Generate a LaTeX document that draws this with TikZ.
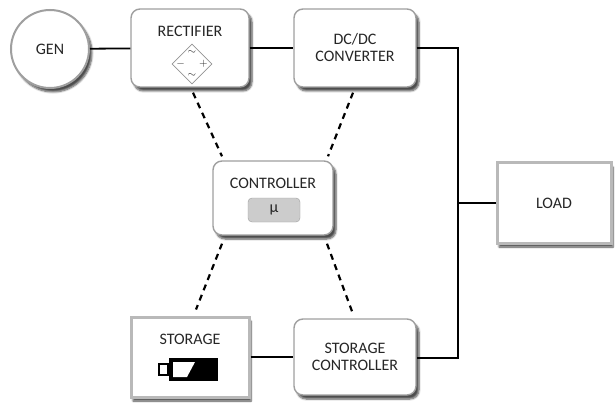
\documentclass[tikz,border=0pt]{standalone}
\usepackage{fontspec}
\setmainfont{Carlito}
\usetikzlibrary{shapes.geometric,shadows.blur}

\begin{document}
\begin{tikzpicture}[x=1pt,y=-1pt]
\tikzstyle{every node}+=[inner sep=0pt, font=\fontsize{16}{17}\selectfont, text=black!85]
\tikzstyle{unit}=[draw=gray!75, fill=white, line width=1.4pt, rounded corners=9pt, blur shadow={shadow xshift=3pt, shadow yshift=-4pt, shadow blur steps=6, shadow opacity=70}]
\tikzstyle{bevel}=[draw=gray!55, fill=white, line width=3pt, blur shadow={shadow xshift=2pt, shadow yshift=-4pt, shadow blur steps=6, shadow opacity=70}]
\tikzstyle{wire}=[black, line width=1.8pt]
\tikzstyle{link}=[black, line width=2.2pt, dash pattern=on 6pt off 5pt]
\useasboundingbox (0,0) rectangle (615,406);
% blocks
\node [unit, circle, line width=2pt, minimum size=78pt] (gen) at (50,49) {GEN};
\node [unit, minimum width=118pt, minimum height=78pt] (rect) at (190,48) {};
\node (recttxt) at (190,31) {RECTIFIER};
\node [unit, minimum width=122pt, minimum height=78pt, align=center] (dcdc) at (355,48) {DC/DC\\CONVERTER};
\node [unit, minimum width=120pt, minimum height=74pt] (ctrl) at (273,198) {};
\node (ctrltxt) at (273,183) {CONTROLLER};
\node [draw=gray!75, fill=gray!40, rounded corners=4pt, minimum width=52pt, minimum height=24pt] (mu) at (274,210) {μ};
\node [bevel, minimum width=114pt, minimum height=80pt] (load) at (554,203) {LOAD};
\node [bevel, minimum width=118pt, minimum height=80pt] (stor) at (190,357) {};
\node (stortxt) at (190,339) {STORAGE};
\node [unit, minimum width=122pt, minimum height=76pt, align=center] (stctrl) at (355,357) {STORAGE\\CONTROLLER};
% rectifier bridge
\node [diamond, draw=gray!85, thick, fill=white, minimum size=40pt] (bridge) at (192,64) {};
\node [font=\fontsize{11}{11}\selectfont] at ([yshift=-9]bridge.north) {$\sim$};
\node [font=\fontsize{11}{11}\selectfont] at ([yshift=9]bridge.south) {$\sim$};
\node [font=\fontsize{11}{11}\selectfont] at ([xshift=9]bridge.west) {$-$};
\node [font=\fontsize{11}{11}\selectfont] at ([xshift=-9]bridge.east) {$+$};
% battery
\fill [black] (169,358) rectangle (218,381);
\draw [black, line width=1.8pt, fill=white] (159,364) rectangle (168,375);
\fill [white] (173,362) -- (195,362) -- (187,377) -- (173,377) -- cycle;
% power wires
\coordinate (bust) at (458,48);
\coordinate (busm) at (458,203);
\coordinate (busb) at (458,358);
\draw [wire] (gen) -- (rect);
\draw [wire] (rect) -- (dcdc);
\draw [wire] (dcdc.east) -- (bust) -- (busb) -- (stctrl.east |- busb);
\draw [wire] (busm) -- (load.west);
\draw [wire] (stor) -- (stctrl);
% control links
\draw [link] ([shift={(3,5)}]rect.south) -- ([shift={(-51,-4)}]ctrl.north);
\draw [link] ([shift={(-2,5)}]dcdc.south) -- ([shift={(55,-4)}]ctrl.north);
\draw [link] ([shift={(-51,8)}]ctrl.south) -- ([shift={(6,-6)}]stor.north);
\draw [link] ([shift={(54,8)}]ctrl.south) -- ([shift={(-3,-7)}]stctrl.north);
\end{tikzpicture}
\end{document}
